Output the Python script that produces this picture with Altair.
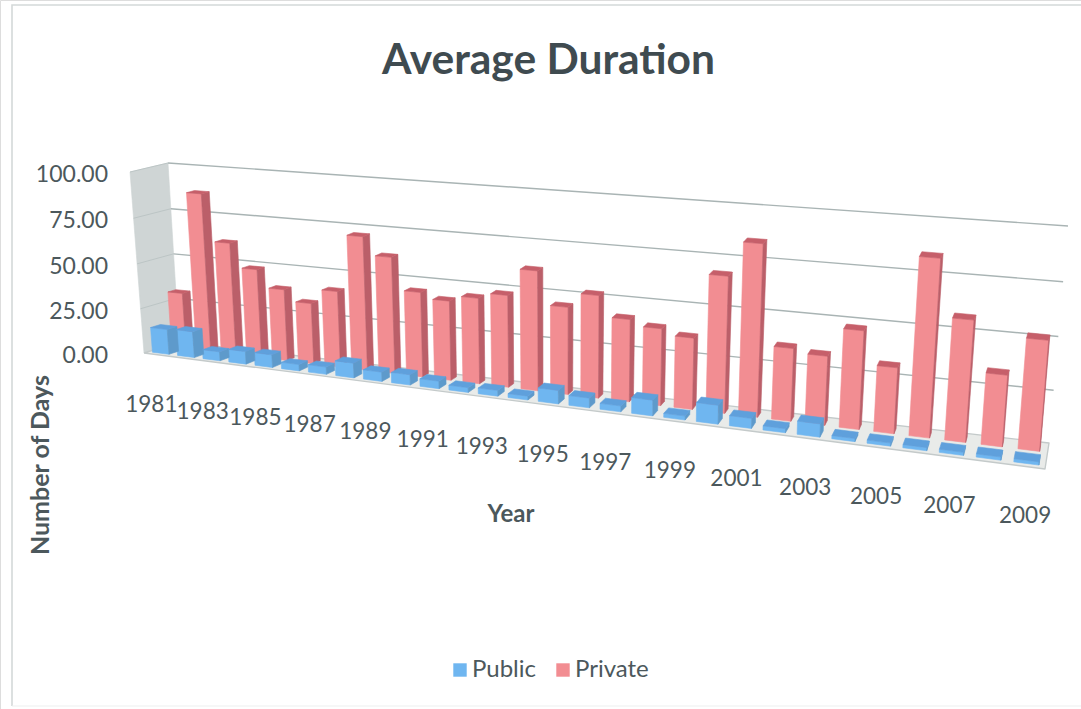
import altair as alt
import numpy as np
import pandas as pd

years = list(range(1981, 2010))
public_days = [14, 14.5, 5, 7, 7, 3.5, 4, 8, 5, 5.5, 4, 2.5, 3, 2, 7, 5, 3, 8, 2, 9.5, 5, 2, 6.5, 1.5, 1.5, 1.5, 1.5, 1.5, 1.5]
private_days = [31, 87, 61.5, 48.5, 39, 33, 41, 71.5, 62, 45, 42, 45, 48, 62, 45, 52.5, 42, 39, 36, 68, 85, 36, 34, 48, 32, 85, 58, 34, 52]
value_ticks = [0, 25, 50, 75, 100]
year_labels = list(range(1981, 2010, 2))

TEXT = "#4c585c"
FONT = "Lato"
SERIES = {
    "Private": {"depth": (0.64, 0.86), "share": 0.58, "front": "#f28d92", "side": "#bb5f69", "top": "#c65f6a", "days": private_days},
    "Public": {"depth": (0.12, 0.40), "share": 0.66, "front": "#6fb6f0", "side": "#5e9acb", "top": "#5fa0dc", "days": public_days},
}
CATEGORY_BOW = 0.014


def homography(src, dst):
    rows, rhs = [], []
    for (a, b), (x, y) in zip(src, dst):
        rows.append([a, b, 1, 0, 0, 0, -a * x, -b * x])
        rows.append([0, 0, 0, a, b, 1, -a * y, -b * y])
        rhs += [x, y]
    return np.append(np.linalg.solve(np.array(rows, float), np.array(rhs, float)), 1).reshape(3, 3)


plane_corners = [(0, 0), (1, 0), (0, 100), (1, 100)]
back_plane = homography(plane_corners, [(179, 342), (1049, 443), (168, 163), (1068, 226)])
front_plane = homography(plane_corners, [(144, 353), (1045, 469), (130, 172), (1061, 250)])


def project(u, depth, value):
    """Chart space (category fraction, depth 0 front to 1 back, days) to drawing units."""
    out = []
    for plane in (front_plane, back_plane):
        p = plane @ np.array([u, value, 1.0])
        out.append(p[:2] / p[2])
    return out[0] + (out[1] - out[0]) * depth


def category_position(slot):
    """Fraction along the category axis for a fractional slot index."""
    u = slot / len(years)
    return u - CATEGORY_BOW * u * (1 - u)


def polygon(rows, name, series, points):
    for order, (u, d, v) in enumerate(points + points[:1]):
        sx, sy = project(u, d, v)
        rows.append({"shape": name, "series": series, "seq": order, "sx": sx, "sy": sy})


faces = {"front": [], "side": [], "top": []}
for series, spec in SERIES.items():
    d0, d1 = spec["depth"]
    half = spec["share"] / 2
    for i, (year, days) in enumerate(zip(years, spec["days"])):
        u0 = category_position(i + 0.5 - half)
        u1 = category_position(i + 0.5 + half)
        key = f"{series}-{year}"
        polygon(faces["front"], key, series, [(u0, d0, 0), (u1, d0, 0), (u1, d0, days), (u0, d0, days)])
        polygon(faces["side"], key, series, [(u1, d0, 0), (u1, d1, 0), (u1, d1, days), (u1, d0, days)])
        polygon(faces["top"], key, series, [(u0, d0, days), (u1, d0, days), (u1, d1, days), (u0, d1, days)])

wall_rows, floor_rows, grid_rows, wall_grid_rows = [], [], [], []
polygon(wall_rows, "wall", "wall", [(0, 0, 0), (0, 1, 0), (0, 1, 100), (0, 0, 100)])
polygon(floor_rows, "floor", "floor", [(0, 0, 0), (1, 0, 0), (1, 1, 0), (0, 1, 0)])
for tick in value_ticks[1:]:
    for order, (u, d) in enumerate([(0, 1), (1, 1)]):
        sx, sy = project(u, d, tick)
        grid_rows.append({"shape": f"g{tick}", "seq": order, "sx": sx, "sy": sy})
    for order, d in enumerate([0, 1]):
        sx, sy = project(0, d, tick)
        wall_grid_rows.append({"shape": f"w{tick}", "seq": order, "sx": sx, "sy": sy})

tick_rows = [{"label": f"{t:.2f}", "sx": 108, "sy": project(0, 0, t)[1] + 3} for t in value_ticks]
year_rows = []
for year in year_labels:
    u = category_position(year - 1981 + 0.5)
    sx, sy = project(u, -0.15, 0)
    year_rows.append({"label": str(year), "sx": sx, "sy": sy + 49 - 3.4 * u})

# Outer frame of the chart object
frame_rows = [
    {"shape": "frame", "seq": 0, "sx": 12, "sy": 706},
    {"shape": "frame", "seq": 1, "sx": 12, "sy": 5},
    {"shape": "frame", "seq": 2, "sx": 1081, "sy": 5},
]
frame_bottom_rows = [
    {"shape": "frame-bottom", "seq": 0, "sx": 12, "sy": 706},
    {"shape": "frame-bottom", "seq": 1, "sx": 1081, "sy": 706},
]

x_scale = alt.Scale(domain=[0, 1081], range=[0, 1081], nice=False, zero=False)
y_scale = alt.Scale(domain=[0, 709], range=[0, 709], nice=False, zero=False)
X = alt.X("sx:Q", scale=x_scale, axis=None)
Y = alt.Y("sy:Q", scale=y_scale, axis=None)
ORDER = alt.Order("seq:Q")


def face_layer(rows, color, stroke=None, stroke_width=0.6):
    return alt.Chart(pd.DataFrame(rows)).mark_line(
        filled=True, fill=color, stroke=stroke or color, strokeWidth=stroke_width, strokeJoin="round"
    ).encode(x=X, y=Y, order=ORDER, detail="shape:N")


def line_layer(rows, color, width):
    return alt.Chart(pd.DataFrame(rows)).mark_line(color=color, strokeWidth=width).encode(
        x=X, y=Y, order=ORDER, detail="shape:N"
    )


def series_faces(series):
    spec = SERIES[series]
    out = []
    for face in ("front", "side", "top"):
        rows = [r for r in faces[face] if r["series"] == series]
        out.append(face_layer(rows, spec[face]))
    return out


legend_rows = [{"series": s, "sx": -50, "sy": -50} for s in ("Public", "Private")]
legend_layer = alt.Chart(pd.DataFrame(legend_rows)).mark_square(size=1, opacity=1).encode(
    x=X,
    y=Y,
    color=alt.Color(
        "series:N",
        scale=alt.Scale(domain=["Public", "Private"], range=["#6fb6f0", "#f28d92"]),
        legend=alt.Legend(
            title=None,
            orient="none",
            legendX=448,
            legendY=658,
            direction="horizontal",
            columns=2,
            symbolType="square",
            symbolSize=180,
            symbolStrokeWidth=0,
            labelFont=FONT,
            labelFontSize=24,
            labelColor=TEXT,
            labelLimit=200,
            columnPadding=14,
            labelOffset=0,
        ),
    ),
)

ticks = alt.Chart(pd.DataFrame(tick_rows)).mark_text(
    align="right", baseline="middle", font=FONT, fontSize=23, color=TEXT
).encode(x=X, y=Y, text="label:N")

year_text = alt.Chart(pd.DataFrame(year_rows)).mark_text(
    align="center", baseline="middle", font=FONT, fontSize=22.5, color=TEXT
).encode(x=X, y=Y, text="label:N")

x_title = alt.Chart(pd.DataFrame([{"label": "Year", "sx": 511, "sy": 515}])).mark_text(
    align="center", baseline="middle", font=FONT, fontSize=24, fontWeight="bold", color=TEXT
).encode(x=X, y=Y, text="label:N")

y_title = alt.Chart(pd.DataFrame([{"label": "Number of Days", "sx": 41, "sy": 465}])).mark_text(
    align="center", baseline="middle", angle=270, font=FONT, fontSize=25, fontWeight="bold", color=TEXT
).encode(x=X, y=Y, text="label:N")

chart = alt.layer(
    line_layer(frame_rows, "#d4d9d9", 1.6),
    line_layer(frame_bottom_rows, "#eef0f0", 1.2),
    face_layer(wall_rows, "#cfd5d5"),
    line_layer(wall_grid_rows, "#bcc5c5", 1),
    face_layer(floor_rows, "#e9ebe9", stroke="#c4caca", stroke_width=1.4),
    line_layer(grid_rows, "#a9b4b4", 1.4),
    *series_faces("Private"),
    *series_faces("Public"),
    ticks,
    year_text,
    x_title,
    y_title,
    legend_layer,
).properties(
    width=1081,
    height=709,
    padding=0,
    autosize=alt.AutoSizeParams(type="none"),
    title=alt.TitleParams(
        "Average Duration", anchor="middle", dx=8, dy=137, font=FONT, fontSize=42.5, fontWeight="bold", color="#3f4b50"
    ),
).configure_view(stroke=None).configure(background="#ffffff")

chart.save("out.html", embed_options={"renderer": "svg", "actions": False})
